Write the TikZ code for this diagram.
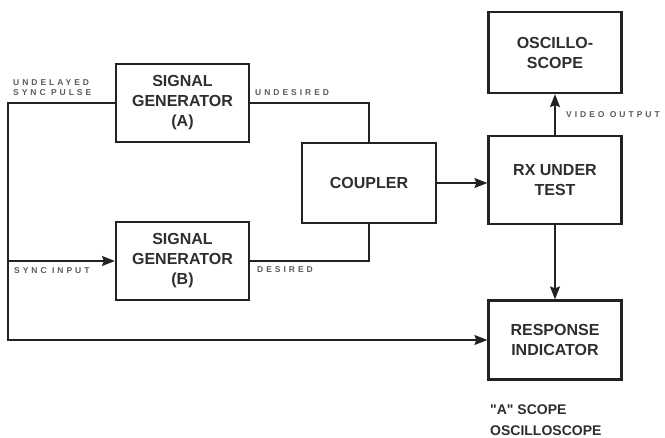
\documentclass[tikz,border=0pt]{standalone}
\usepackage{fontspec}
\setmainfont{Liberation Sans}
\newfontfamily\boxfont{Liberation Sans}
\newfontfamily\tagfont[LetterSpace=35]{Liberation Sans}
\usetikzlibrary{arrows.meta}
\definecolor{ink}{HTML}{222222}
\definecolor{txt}{HTML}{2E2E2E}
\definecolor{tagc}{HTML}{5A5A5A}
\tikzset{
  blk/.style={draw=ink, line width=2.2pt, minimum width=133pt, inner sep=0pt, align=center,
    text=txt, font=\boxfont\bfseries\fontsize{16}{20}\selectfont},
  wire/.style={draw=ink, line width=1.5pt},
  arr/.style={wire, -{Stealth[length=13pt,width=10pt,inset=2pt]}},
  tag/.style={text=tagc, font=\tagfont\bfseries\fontsize{8.5}{10}\selectfont, inner sep=0pt, align=left},
}
\begin{document}
\begin{tikzpicture}[x=1pt,y=-1pt]
\useasboundingbox (0,0) rectangle (665,438);
\node[blk, minimum height=78pt] (sga) at (182.5,103) {SIGNAL\\GENERATOR\\(A)};
\node[blk, minimum height=78pt] (sgb) at (182.5,261) {SIGNAL\\GENERATOR\\(B)};
\node[blk, minimum width=134pt, minimum height=80pt] (cpl) at (369,183) {COUPLER};
\node[blk, minimum height=88pt] (rx) at (555,180) {RX UNDER\\TEST};
\node[blk, minimum height=81pt] (osc) at (555,52.5) {OSCILLO-\\SCOPE};
\node[blk, minimum height=79pt] (resp) at (555,340) {RESPONSE\\INDICATOR};
\coordinate (ltop) at (8,103);
\coordinate (lsync) at (8,261);
\draw[wire] (sga.west) -- (ltop) -- (lsync);
\draw[arr] (lsync) |- (resp.west);
\draw[arr] (lsync) -- (sgb.west);
\draw[wire] (sga.east) -| (cpl.north);
\draw[wire] (sgb.east) -| (cpl.south);
\draw[arr] (cpl.east) -- (cpl.east -| rx.west);
\draw[arr] (rx.north) -- (osc.south);
\draw[arr] (rx.south) -- (resp.north);
\node[tag, anchor=west] (t1) at (13,88) {UNDELAYED\\SYNC PULSE};
\node[tag, anchor=west] (t2) at (255,93) {UNDESIRED};
\node[tag, anchor=west] (t3) at (14,271) {SYNC INPUT};
\node[tag, anchor=west] (t4) at (257,270) {DESIRED};
\node[tag, anchor=west] (t5) at (566,115) {VIDEO OUTPUT};
\node[anchor=west, align=left, text=txt, inner sep=0pt,
  font=\boxfont\bfseries\fontsize{14}{21}\selectfont] (cap) at (490,420) {"A" SCOPE\\OSCILLOSCOPE};
\end{tikzpicture}
\end{document}
